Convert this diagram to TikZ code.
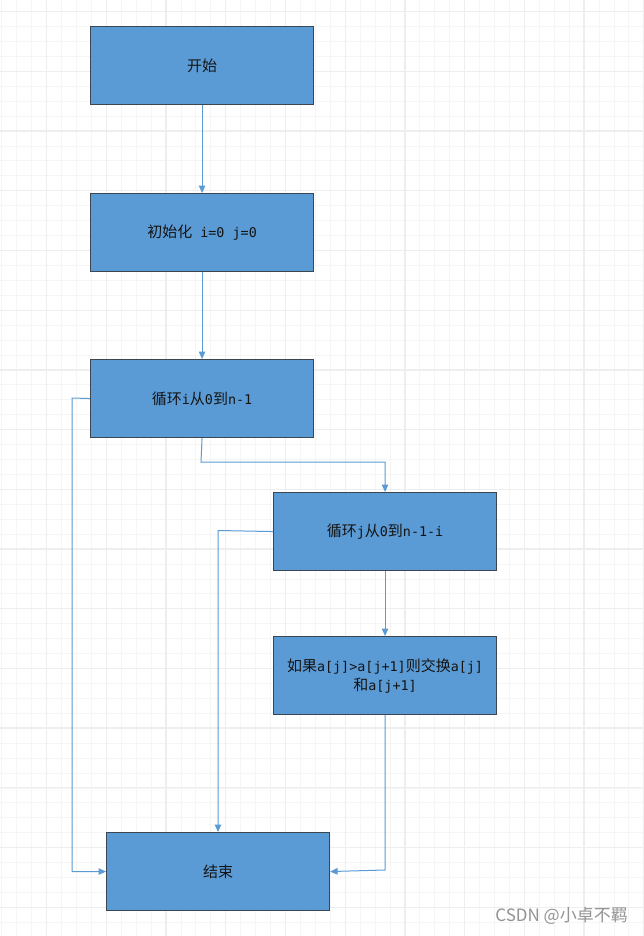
\documentclass[tikz,border=0pt]{standalone}
\usepackage{fontspec}
\setmainfont{Noto Sans CJK SC}
\newfontfamily\latfont{DejaVu Sans Mono}
\newcommand{\latn}[1]{{\latfont\fontsize{13.4pt}{18pt}\selectfont #1}}
\usetikzlibrary{arrows.meta}
\definecolor{boxfill}{HTML}{5B9BD5}
\definecolor{boxline}{HTML}{3C4650}
\definecolor{conn}{HTML}{5B9BD5}
\definecolor{gridminor}{HTML}{F5F5F5}
\definecolor{gridmajor}{HTML}{EEEEEE}
\definecolor{txt}{HTML}{141414}
\tikzset{
  stepbox/.style={draw=boxline, line width=1.1pt, fill=boxfill, minimum width=223pt, minimum height=78pt, inner sep=0pt, align=center, font=\fontsize{15pt}{19pt}\selectfont, text=txt, anchor=north west},
  conn/.style={draw=conn, line width=1pt, -{Triangle[length=7.5pt,width=6.5pt]}},
  wm/.style={text=gray!85, font=\fontsize{17pt}{19pt}\selectfont, anchor=east, inner sep=0pt}
}
\begin{document}
\begin{tikzpicture}[x=1pt,y=-1pt]
\useasboundingbox (0,0) rectangle (644,936);
\fill[white] (0,0) rectangle (644,936);
% grid
\foreach \i in {-3,...,43} {
  \draw[gridminor, line width=1pt] ({1.9+14.93*\i},0) -- ({1.9+14.93*\i},936);
}
\foreach \i in {-1,...,63} {
  \draw[gridminor, line width=1pt] (0,{11.7+14.93*\i}) -- (644,{11.7+14.93*\i});
}
\foreach \i in {0,...,10} {
  \draw[gridmajor, line width=1.3pt] ({46.7+59.7*\i},0) -- ({46.7+59.7*\i},936);
}
\foreach \i in {0,...,15} {
  \draw[gridmajor, line width=1.3pt] (0,{11.7+59.7*\i}) -- (644,{11.7+59.7*\i});
}
% boxes
\node[stepbox] (start) at (90,26) {开始};
\node[stepbox] (init) at (90,193) {初始化\latn{ i=0 j=0}};
\node[stepbox] (loopi) at (90,359) {循环\latn{i}从\latn{0}到\latn{n-1}};
\node[stepbox] (loopj) at (273,492) {循环\latn{j}从\latn{0}到\latn{n-1-i}};
\node[stepbox] (cond) at (273,636) {如果\latn{a[j]>a[j+1]}则交换\latn{a[j]}\\和\latn{a[j+1]}};
\node[stepbox] (end) at (106,832) {结束};
% connectors
\draw[conn] (start.south) -- (init.north);
\draw[conn] (init.south) -- (loopi.north);
\coordinate (c1) at (201,462);
\draw[conn] (loopi.south) -- (c1) -| (loopj.north);
\draw[conn] (loopj.south) -- (cond.north);
\coordinate (c2) at (72,398);
\draw[conn] (loopi.west) -- (c2) |- (end.west);
\coordinate (c3) at (218,530.5);
\draw[conn] (loopj.west) -- (c3) -- (c3 |- end.north);
\coordinate (c4) at (385,870);
\draw[conn] (cond.south) -- (c4) -- (end.east);
% watermark
\node[wm] (wmark) at (628,916) {CSDN @小卓不羁};
\end{tikzpicture}
\end{document}
